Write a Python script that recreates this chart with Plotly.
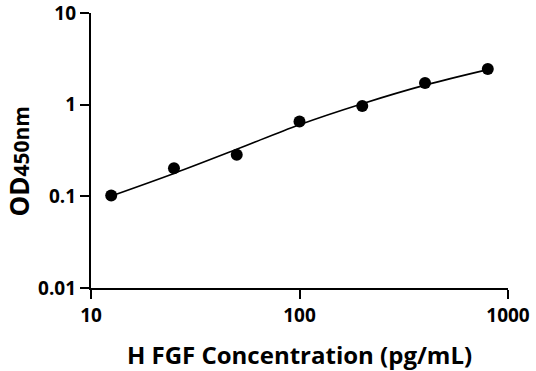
import plotly.graph_objects as go

conc = [12.5, 25, 50, 100, 200, 400, 800]
od = [0.102, 0.203, 0.284, 0.657, 0.967, 1.726, 2.455]

curve_x = [12.5, 25, 50, 100, 200, 400, 800]
curve_y = [0.101, 0.178, 0.326, 0.605, 1.025, 1.634, 2.413]

xticks = [10, 100, 1000]
xtick_text = ["10", "100", "1000"]
yticks = [0.01, 0.1, 1, 10]
ytick_text = ["0.01", "0.1", "1", "10"]

FONT = "Open Sans"

fig = go.Figure()
fig.add_trace(go.Scatter(x=curve_x, y=curve_y, mode="lines",
                         line=dict(color="black", width=1.6, shape="spline", smoothing=1.0),
                         hoverinfo="skip", showlegend=False))
fig.add_trace(go.Scatter(x=conc, y=od, mode="markers",
                         marker=dict(color="black", size=12),
                         showlegend=False))

fig.update_layout(
    width=536, height=371,
    margin=dict(l=91, r=28, t=13, b=83),
    plot_bgcolor="white", paper_bgcolor="white",
    font=dict(family=FONT, color="black"),
    xaxis=dict(type="log", range=[1, 3], tickvals=xticks, ticktext=xtick_text,
               automargin=False, ticklabeloverflow="allow",
               showgrid=False, zeroline=False, showline=True, linecolor="black",
               linewidth=2.2, ticks="outside", ticklen=9, tickwidth=2.2,
               tickcolor="black",
               tickfont=dict(family=FONT, size=19, color="black", weight="bold"),
               title=dict(text="<b>H FGF Concentration (pg/mL)</b>",
                          font=dict(family=FONT, size=24, color="black"),
                          standoff=20)),
    yaxis=dict(type="log", range=[-2, 1], tickvals=yticks, ticktext=ytick_text,
               automargin=False, ticklabeloverflow="allow",
               showgrid=False, zeroline=False, showline=True, linecolor="black",
               linewidth=2.2, ticks="outside", ticklen=9, tickwidth=2.2,
               tickcolor="black",
               tickfont=dict(family=FONT, size=19, color="black", weight="bold")),
    annotations=[dict(text="<b>OD<span style='font-size:21px'>450nm</span></b>",
                      xref="paper", yref="paper", x=0, y=0.5,
                      xanchor="center", yanchor="middle",
                      xshift=-73, yshift=-11, textangle=-90, showarrow=False,
                      font=dict(family=FONT, size=26, color="black"))],
)

fig.write_html("out.html", config={"displayModeBar": False},
               post_script="document.body.style.margin='0';")
